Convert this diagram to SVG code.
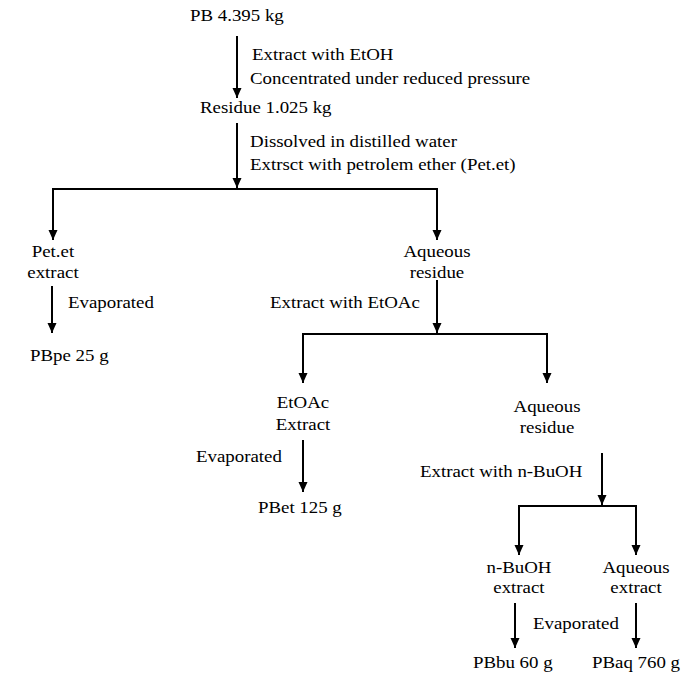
<svg xmlns="http://www.w3.org/2000/svg" width="681" height="677" viewBox="0 0 681 677">
<style>
text{font-family:"Liberation Serif","Times New Roman",serif;font-size:16px;fill:#000}
.c{text-anchor:middle}
.ln{stroke:#000;stroke-width:2;fill:none}
.ar{stroke:#000;stroke-width:2;fill:none;marker-end:url(#ah)}
</style>
<defs>
<marker id="ah" markerUnits="userSpaceOnUse" markerWidth="10" markerHeight="10" refX="10" refY="4.5" orient="auto" viewBox="0 0 10 9">
<path d="M0,0 L10,4.5 L0,9 Z" fill="#000"/>
</marker>
</defs>
<rect width="681" height="677" fill="#fff"/>
<g id="connectors">
<line class="ar" x1="237" y1="36" x2="237" y2="98"/>
<line class="ar" x1="237" y1="123" x2="237" y2="188"/>
<polyline class="ln" points="53,240 53,189 437,189 437,240"/>
<line class="ar" x1="53" y1="189" x2="53" y2="240"/>
<line class="ar" x1="437" y1="189" x2="437" y2="240"/>
<line class="ar" x1="52" y1="286" x2="52" y2="333"/>
<line class="ar" x1="437" y1="280" x2="437" y2="333"/>
<line class="ln" x1="303" y1="334" x2="547" y2="334"/>
<line class="ar" x1="303" y1="333" x2="303" y2="383"/>
<line class="ar" x1="547" y1="333" x2="547" y2="383"/>
<line class="ar" x1="303" y1="440" x2="303" y2="492"/>
<line class="ar" x1="602" y1="453" x2="602" y2="505"/>
<line class="ln" x1="519" y1="506" x2="636" y2="506"/>
<line class="ar" x1="519" y1="505" x2="519" y2="555"/>
<line class="ar" x1="636" y1="505" x2="636" y2="555"/>
<line class="ar" x1="515" y1="603" x2="515" y2="648"/>
<line class="ar" x1="636" y1="603" x2="636" y2="648"/>
</g>
<g id="n_pb" transform="scale(1.18,1)"><text x="161" y="21">PB 4.395 kg</text></g>
<g id="l1" transform="scale(1.18,1)"><text x="213.6" y="60">Extract with EtOH</text><text x="211.9" y="84">Concentrated under reduced pressure</text></g>
<g id="n_residue" transform="scale(1.18,1)"><text x="169.5" y="113">Residue 1.025 kg</text></g>
<g id="l2" transform="scale(1.18,1)"><text x="211.9" y="147">Dissolved in distilled water</text><text x="211.9" y="170">Extrsct with petrolem ether (Pet.et)</text></g>
<g id="n_petet" transform="scale(1.18,1)"><text class="c" x="44.9" y="257">Pet.et</text><text class="c" x="44.9" y="278">extract</text></g>
<g id="l3" transform="scale(1.18,1)"><text x="57.6" y="308">Evaporated</text></g>
<g id="n_pbpe" transform="scale(1.18,1)"><text x="25.4" y="361">PBpe 25 g</text></g>
<g id="n_aq1" transform="scale(1.18,1)"><text class="c" x="370.3" y="257">Aqueous</text><text class="c" x="370.3" y="278">residue</text></g>
<g id="l4" transform="scale(1.18,1)"><text x="228.8" y="308">Extract with EtOAc</text></g>
<g id="n_etoac" transform="scale(1.18,1)"><text class="c" x="256.8" y="408">EtOAc</text><text class="c" x="256.8" y="430">Extract</text></g>
<g id="l5" transform="scale(1.18,1)"><text x="166.1" y="462">Evaporated</text></g>
<g id="n_pbet" transform="scale(1.18,1)"><text x="218.6" y="513">PBet 125 g</text></g>
<g id="n_aq2" transform="scale(1.18,1)"><text class="c" x="463.6" y="412">Aqueous</text><text class="c" x="463.6" y="433">residue</text></g>
<g id="l6" transform="scale(1.18,1)"><text x="355.9" y="477">Extract with n-BuOH</text></g>
<g id="n_buoh" transform="scale(1.18,1)"><text class="c" x="439.8" y="573">n-BuOH</text><text class="c" x="439.8" y="593">extract</text></g>
<g id="n_aqext" transform="scale(1.18,1)"><text class="c" x="539" y="573">Aqueous</text><text class="c" x="539" y="593">extract</text></g>
<g id="l7" transform="scale(1.18,1)"><text x="451.7" y="629">Evaporated</text></g>
<g id="n_pbbu" transform="scale(1.18,1)"><text x="400.8" y="668">PBbu 60 g</text></g>
<g id="n_pbaq" transform="scale(1.18,1)"><text x="501.7" y="668">PBaq 760 g</text></g>
</svg>
